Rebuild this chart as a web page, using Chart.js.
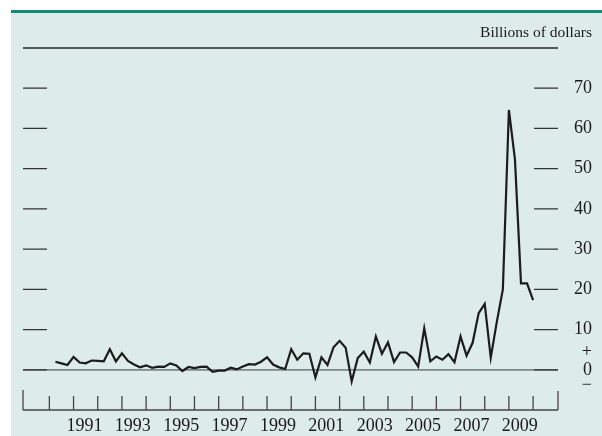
<!DOCTYPE html>
<html>
<head>
<meta charset="utf-8">
<script src="https://cdn.jsdelivr.net/npm/chart.js@4/dist/chart.umd.min.js"></script>
<style>
  html, body { margin: 0; padding: 0; background: #ffffff; }
  #wrap { position: relative; width: 602px; height: 436px; }
  #panel { position: absolute; left: 11px; top: 10px; width: 591px; height: 423px;
           background: #ddebeb; border-top: 3px solid #0e8c78; }
  #chart { position: absolute; left: 0; top: 0; }
</style>
</head>
<body>
<div id="wrap">
  <div id="panel"></div>
  <canvas id="chart" width="602" height="436"></canvas>
</div>
<script>
// quarterly, 1990:Q1 - 2009:Q4, billions of dollars
const firstYear = 1990;
const values = [
  2.0, 1.6, 1.2, 3.2,   1.8, 1.6, 2.3, 2.2,   2.1, 5.1, 2.1, 4.1,   2.2, 1.3, 0.6, 1.1,
  0.5, 0.8, 0.7, 1.6,   1.1, -0.3, 0.7, 0.4,  0.7, 0.8, -0.5, -0.2, -0.2, 0.5, 0.1, 0.8,
  1.4, 1.3, 2.0, 3.1,   1.3, 0.6, 0.2, 5.1,   2.5, 4.1, 4.0, -1.9,  3.1, 1.2, 5.6, 7.2,
  5.5, -2.9, 2.9, 4.5,  1.8, 8.3, 4.0, 6.8,   1.9, 4.3, 4.3, 3.1,   0.8, 10.3, 2.1, 3.3,
  2.5, 3.9, 1.9, 8.3,   3.5, 6.7, 14.1, 16.4, 3.0, 11.9, 20.0, 64.6, 52.3, 21.5, 21.5, 17.3
];
const yearTicks = [1990, 1991, 1992, 1993, 1994, 1995, 1996, 1997, 1998, 1999, 2000,
                   2001, 2002, 2003, 2004, 2005, 2006, 2007, 2008, 2009, 2010];
const yearLabels = ['1991', '1993', '1995', '1997', '1999', '2001', '2003', '2005', '2007', '2009'];
const valueTicks = [0, 10, 20, 30, 40, 50, 60, 70];
const unitLabel = 'Billions of dollars';

const points = values.map((v, i) => ({ x: firstYear + (i + 1) / 4, y: v }));

const frame = {
  id: 'frame',
  beforeDatasetsDraw(chart) {
    const ctx = chart.ctx, a = chart.chartArea;
    const xs = chart.scales.x, ys = chart.scales.y;
    ctx.save();
    // top rule
    ctx.strokeStyle = '#2a2a2a';
    ctx.lineWidth = 1.3;
    ctx.beginPath();
    ctx.moveTo(a.left, a.top); ctx.lineTo(a.right, a.top);
    ctx.stroke();
    // zero line
    const y0 = ys.getPixelForValue(0);
    ctx.strokeStyle = '#7d8787';
    ctx.lineWidth = 1.8;
    ctx.beginPath();
    ctx.moveTo(a.left, y0); ctx.lineTo(a.right, y0);
    ctx.stroke();
    // short value ticks on both sides
    ctx.strokeStyle = '#333333';
    ctx.lineWidth = 1.3;
    valueTicks.forEach(v => {
      const y = ys.getPixelForValue(v);
      ctx.beginPath();
      ctx.moveTo(a.left, y); ctx.lineTo(a.left + 24, y);
      ctx.moveTo(a.right - 24, y); ctx.lineTo(a.right, y);
      ctx.stroke();
    });
    // bottom axis
    ctx.strokeStyle = '#444444';
    ctx.lineWidth = 1.3;
    ctx.beginPath();
    ctx.moveTo(a.left, a.bottom); ctx.lineTo(a.right, a.bottom);
    ctx.moveTo(a.left, a.bottom); ctx.lineTo(a.left, a.bottom - 20);
    ctx.moveTo(a.right, a.bottom); ctx.lineTo(a.right, a.bottom - 19);
    yearTicks.forEach(yr => {
      const x = xs.getPixelForValue(yr);
      ctx.moveTo(x, a.bottom); ctx.lineTo(x, a.bottom - 14);
    });
    ctx.stroke();
    ctx.restore();
  },
  afterDraw(chart) {
    const ctx = chart.ctx, a = chart.chartArea;
    const xs = chart.scales.x, ys = chart.scales.y;
    ctx.save();
    ctx.fillStyle = '#1a1a1a';
    ctx.font = '15.5px "Liberation Serif", "DejaVu Serif", serif';
    ctx.textAlign = 'right';
    ctx.textBaseline = 'alphabetic';
    ctx.fillText(unitLabel, 592, 37);

    ctx.font = '18px "Liberation Serif", "DejaVu Serif", serif';
    ctx.textBaseline = 'middle';
    valueTicks.forEach(v => {
      if (v === 0) return;
      ctx.fillText(String(v), 592, ys.getPixelForValue(v));
    });
    const y0 = ys.getPixelForValue(0);
    ctx.fillText('0', 592, y0);
    ctx.fillText('+', 592, y0 - 18);
    ctx.fillText('\u2212', 592, y0 + 15);

    ctx.textAlign = 'center';
    ctx.textBaseline = 'alphabetic';
    yearLabels.forEach(lbl => {
      const yr = Number(lbl);
      ctx.fillText(lbl, xs.getPixelForValue(yr + 0.45), a.bottom + 21);
    });
    ctx.restore();
  }
};

new Chart(document.getElementById('chart'), {
  type: 'line',
  data: {
    datasets: [{
      data: points,
      borderColor: '#1c1c1c',
      borderWidth: 2.2,
      pointRadius: 0,
      tension: 0,
      fill: false
    }]
  },
  options: {
    responsive: false,
    animation: false,
    devicePixelRatio: 1,
    layout: { padding: { left: 23, right: 44, top: 48, bottom: 26 } },
    plugins: { legend: { display: false }, tooltip: { enabled: false } },
    scales: {
      x: { type: 'linear', display: false, min: 1988.91, max: 2011.03 },
      y: { type: 'linear', display: false, min: -10, max: 80 }
    }
  },
  plugins: [frame]
});
</script>
</body>
</html>
